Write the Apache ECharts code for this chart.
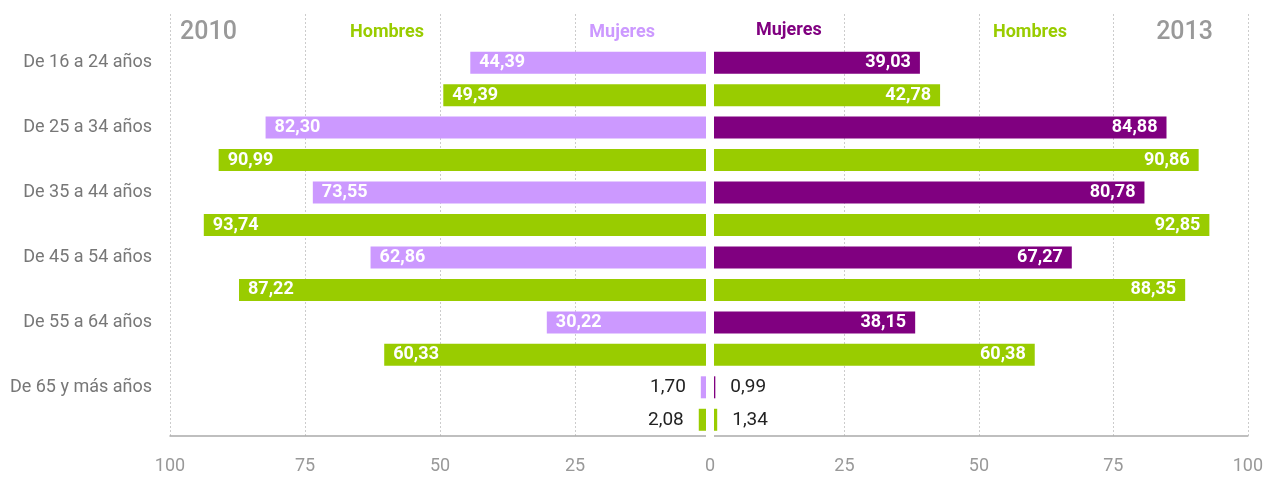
<!DOCTYPE html>
<html>
<head>
<meta charset="utf-8">
<script src="https://cdn.jsdelivr.net/npm/echarts@6/dist/echarts.min.js"></script>
<style>
  html, body { margin: 0; padding: 0; background: #fff; }
  #chart { width: 1266px; height: 477px; }
</style>
</head>
<body>
<div id="chart"></div>
<script>
// datos
const ageGroups = ['De 16 a 24 años', 'De 25 a 34 años', 'De 35 a 44 años', 'De 45 a 54 años', 'De 55 a 64 años', 'De 65 y más años'];
const mujeres2010 = [44.39, 82.30, 73.55, 62.86, 30.22, 1.70];
const hombres2010 = [49.39, 90.99, 93.74, 87.22, 60.33, 2.08];
const mujeres2013 = [39.03, 84.88, 80.78, 67.27, 38.15, 0.99];
const hombres2013 = [42.78, 90.86, 92.85, 88.35, 60.38, 1.34];

const FONT = 'Roboto';
const colMujeres2010 = '#cc99ff';
const colMujeres2013 = '#800080';
const colHombres = '#99cc00';

// filas: cabecera + (mujeres, hombres) por grupo
const rowLabels = [''];
ageGroups.forEach(g => { rowLabels.push(g); rowLabels.push(''); });

const fmt = v => v.toFixed(2).replace('.', ',');

function rows(values, offset, left) {
  const out = new Array(rowLabels.length).fill('-');
  values.forEach((v, i) => {
    if (v < 5) {
      out[2 * i + 1 + offset] = {
        value: v,
        label: { position: left ? 'left' : 'right', distance: 15, color: '#222', fontWeight: 'normal', fontSize: 19 }
      };
    } else {
      out[2 * i + 1 + offset] = v;
    }
  });
  return out;
}

function barSeries(name, values, offset, color, gridIdx, left) {
  return {
    name: name,
    type: 'bar',
    xAxisIndex: gridIdx,
    yAxisIndex: gridIdx,
    stack: 'side' + gridIdx,
    barWidth: 22,
    data: rows(values, offset, left),
    itemStyle: { color: color },
    label: {
      show: true,
      position: left ? 'insideLeft' : 'insideRight',
      distance: 9,
      color: '#fff',
      fontFamily: FONT,
      fontWeight: 'bold',
      fontSize: 18,
      formatter: p => fmt(p.value)
    },
    animation: false
  };
}

const xAxisBase = {
  type: 'value',
  min: 0,
  max: 100,
  interval: 25,
  axisLine: { show: true, lineStyle: { color: '#aaa', width: 1.5 } },
  axisTick: { show: false },
  axisLabel: { color: '#999', fontSize: 18, fontFamily: FONT, margin: 21 },
  splitLine: { show: true, lineStyle: { color: '#ccc', type: [2, 2], width: 1 } }
};

const chart = echarts.init(document.getElementById('chart'));
chart.setOption({
  backgroundColor: '#fff',
  grid: [
    { left: 170, width: 540, top: 14, height: 422 },
    { left: 710, width: 540, top: 14, height: 422 }
  ],
  xAxis: [
    Object.assign({}, xAxisBase, { gridIndex: 0, inverse: true }),
    Object.assign({}, xAxisBase, { gridIndex: 1, axisLabel: Object.assign({}, xAxisBase.axisLabel, { showMinLabel: false }) })
  ],
  yAxis: [
    {
      type: 'category', gridIndex: 0, inverse: true,
      data: rowLabels.map((_, i) => 'r' + i),
      axisLine: { show: false }, axisTick: { show: false },
      axisLabel: {
        interval: 0, margin: 18, color: '#777', fontSize: 18, fontFamily: FONT,
        formatter: (v, i) => rowLabels[i]
      }
    },
    {
      type: 'category', gridIndex: 1, inverse: true,
      data: rowLabels.map((_, i) => 'r' + i),
      axisLine: { show: false }, axisTick: { show: false }, axisLabel: { show: false }
    }
  ],
  series: [
    barSeries('Mujeres 2010', mujeres2010, 0, colMujeres2010, 0, true),
    barSeries('Hombres 2010', hombres2010, 1, colHombres, 0, true),
    barSeries('Mujeres 2013', mujeres2013, 0, colMujeres2013, 1, false),
    barSeries('Hombres 2013', hombres2013, 1, colHombres, 1, false)
  ],
  graphic: [
    // separación central
    { type: 'rect', shape: { x: 706, y: 10, width: 8, height: 430 }, style: { fill: '#fff' }, z: 100 },
    { type: 'text', left: 180, top: 20, style: { text: '2010', fill: '#999', font: '500 25px ' + FONT } },
    { type: 'text', right: 1266 - 424, top: 23, style: { text: 'Hombres', fill: colHombres, font: 'bold 18px ' + FONT } },
    { type: 'text', right: 1266 - 655, top: 23, style: { text: 'Mujeres', fill: colMujeres2010, font: 'bold 18px ' + FONT } },
    { type: 'text', left: 756, top: 21, style: { text: 'Mujeres', fill: colMujeres2013, font: 'bold 18px ' + FONT } },
    { type: 'text', left: 993, top: 23, style: { text: 'Hombres', fill: colHombres, font: 'bold 18px ' + FONT } },
    { type: 'text', right: 1266 - 1213, top: 20, style: { text: '2013', fill: '#999', font: '500 25px ' + FONT } }
  ]
});
</script>
</body>
</html>
